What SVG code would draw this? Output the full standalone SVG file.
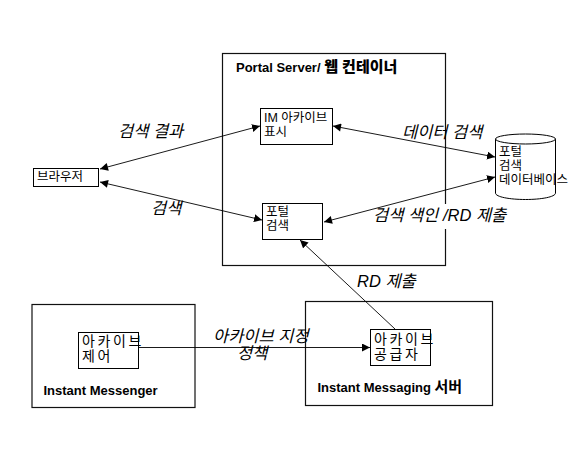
<svg xmlns="http://www.w3.org/2000/svg" width="584" height="472" viewBox="0 0 584 472">
<style>
text{font-family:"Liberation Sans","Noto Sans CJK KR",sans-serif;fill:#000}
.box{fill:#fff;stroke:#000;stroke-width:1}
.outer{fill:none;stroke:#111;stroke-width:1.2}
.t{font-size:12.5px}
.big{font-size:14px;letter-spacing:2.6px}
.l{font-size:16.5px;font-style:italic}
.b{font-size:13px;font-weight:bold}
.c{fill:none;stroke:#000;stroke-width:.9;marker-end:url(#a)}
.d{marker-start:url(#s)}
</style>
<defs>
<marker id="a" markerUnits="userSpaceOnUse" markerWidth="10" markerHeight="10" refX="8" refY="4" orient="auto"><path d="M0 0L8 4L0 8Z" fill="#000"/></marker>
<marker id="s" markerUnits="userSpaceOnUse" markerWidth="10" markerHeight="10" refX="0" refY="4" orient="auto"><path d="M8 0L0 4L8 8Z" fill="#000"/></marker>
</defs>
<g id="portal-server"><rect class="outer" x="222.500" y="53.500" width="223" height="212"/><text class="b" x="236" y="72">Portal Server/ <tspan font-size="15" font-weight="900">웹 컨테이너</tspan></text></g>
<rect x="440" y="204" width="10" height="25" fill="#fff"/>
<g id="instant-messenger"><rect class="outer" x="32" y="304.500" width="163" height="103"/><text class="b" x="43.500" y="395">Instant Messenger</text></g>
<g id="im-server"><rect class="outer" x="305.500" y="301.500" width="187" height="104"/><text class="b" x="317.500" y="392">Instant Messaging <tspan font-size="15">서버</tspan></text></g>
<g id="im-archive"><rect class="box" x="260.500" y="108.500" width="72" height="36"/><text class="t" x="264" y="122">IM 아카이브</text><text class="t" x="264" y="136">표시</text></g>
<g id="portal-search"><rect class="box" x="262.500" y="203.500" width="60" height="36"/><text class="t" x="266" y="216">포털</text><text class="t" x="266" y="230">검색</text></g>
<g id="browser"><rect class="box" x="33.500" y="168.500" width="65" height="18"/><text class="t" x="37" y="181">브라우저</text></g>
<g id="database"><path d="M495.500 139V193C495.500 197 510 199.500 525.500 199.500S555.500 197 555.500 193V139" fill="#fff" stroke="#000"/><ellipse cx="525.500" cy="139" rx="30" ry="5" fill="#fff" stroke="#000"/><text class="t" x="499" y="155.500">포털</text><text class="t" x="499" y="169.500">검색</text><text class="t" x="499" y="183.500">데이터베이스</text></g>
<g id="archive-control"><rect class="box" x="78.500" y="332.500" width="60" height="36"/><text class="big" x="82" y="346">아카이브</text><text class="big" x="82" y="360.500">제어</text></g>
<g id="archive-provider"><rect class="box" x="370.500" y="329.500" width="60" height="36"/><text class="big" x="374" y="344">아카이브</text><text class="big" x="374" y="358.500">공급자</text></g>
<g id="connectors">
<path class="c d" d="M100 169L260 126"/>
<path class="c d" d="M100 182L262 220"/>
<path class="c d" d="M333 126L495 157"/>
<path class="c d" d="M324 222L495 177"/>
<path class="c" d="M395 329L300 240"/>
<path class="c" d="M138 347.500L370 347.500"/>
</g>
<g id="labels">
<text class="l" x="118" y="137">검색 결과</text>
<text class="l" x="151" y="214">검색</text>
<text class="l" x="402" y="138">데이터 검색</text>
<text class="l" x="373" y="221">검색 색인 /RD 제출</text>
<text class="l" x="357" y="287">RD 제출</text>
<text class="l" x="213" y="342">아카이브 지정</text>
<text class="l" x="237" y="359">정책</text>
</g>
</svg>
